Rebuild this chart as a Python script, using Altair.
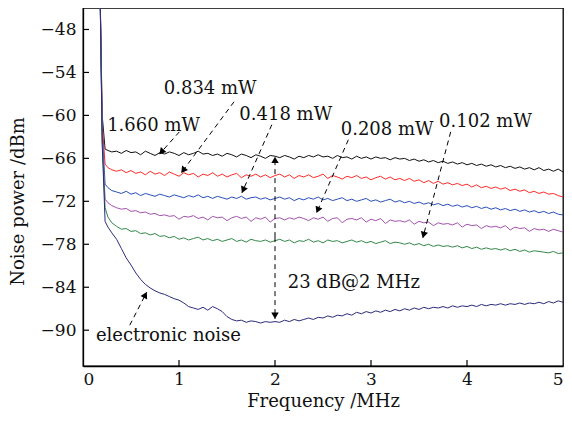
import math
import altair as alt
import pandas as pd

# ---------------- data ----------------
FREQ_START = [0.175, 0.20, 0.23, 0.26, 0.30]
FREQ_GRID = [round(0.35 + 0.05 * i, 2) for i in range(94)]
FREQ = FREQ_START + FREQ_GRID

SERIES = ["1.660 mW", "0.834 mW", "0.418 mW", "0.208 mW", "0.102 mW", "electronic noise"]
COLORS = ["#111111", "#ff2a2a", "#2a50b8", "#a452ae", "#33894a", "#2b2b7c"]

P1660 = [-40, -60, -64.7, -64.9, -65.1,
         -65.0, -65.3, -64.9, -65.2, -65.1, -65.5, -65.0, -65.3, -65.6, -65.2,
         -65.4, -65.1, -65.3, -65.6, -65.2, -65.5, -65.3, -65.0, -65.4, -65.3,
         -65.6, -65.4, -65.7, -65.3, -65.5, -65.8, -65.4, -65.6, -65.9, -65.5,
         -65.7, -66.0, -65.6, -65.7, -65.9, -65.6, -65.8, -66.1, -65.7, -65.9,
         -65.6, -65.8, -65.5, -65.8, -65.7, -66.0, -65.6, -65.9, -65.8, -66.1,
         -65.7, -66.0, -65.8, -66.1, -65.8, -66.0, -65.9, -66.2, -65.9, -66.1,
         -66.0, -66.3, -66.1, -66.4, -66.2, -66.5, -66.3, -66.6, -66.4, -66.7,
         -66.5, -66.8, -66.6, -66.9, -66.7, -67.0, -66.8, -67.1, -66.9, -67.2,
         -67.0, -67.3, -67.1, -67.4, -67.2, -67.5, -67.3, -67.6, -67.3, -67.7,
         -67.5, -67.8, -67.5, -67.9]
P0834 = [-40, -61, -66.8, -67.3, -67.6,
         -67.8, -67.6, -68.0, -67.7, -68.1, -67.9, -68.3, -67.8, -68.2, -68.0,
         -68.4, -67.9, -68.2, -68.5, -68.0, -68.3, -68.1, -68.6, -68.2, -68.4,
         -68.0, -68.5, -68.2, -68.6, -68.3, -68.1, -68.7, -68.3, -68.5, -68.2,
         -68.6, -68.3, -68.7, -68.4, -68.2, -68.6, -68.3, -68.8, -68.4, -68.6,
         -68.3, -68.7, -68.5, -68.2, -68.8, -68.4, -68.6, -68.9, -68.5, -68.7,
         -68.4, -68.8, -68.6, -69.0, -68.7, -68.5, -68.9, -68.6, -69.0, -68.8,
         -69.1, -68.8, -69.2, -69.0, -69.4, -69.1, -69.5, -69.2, -69.6, -69.4,
         -69.7, -69.5, -69.8, -69.6, -70.0, -69.7, -70.1, -69.9, -70.2, -70.0,
         -70.3, -70.1, -70.5, -70.3, -70.6, -70.4, -70.8, -70.6, -70.9, -70.7,
         -71.0, -70.9, -71.2, -71.4]
P0418 = [-40, -62, -69.6, -70.1, -70.5,
         -70.7, -70.9, -70.6, -71.0, -70.8, -71.2, -70.9, -71.1, -71.3, -71.0,
         -71.2, -71.4, -71.1, -71.3, -71.5, -71.2, -71.4, -71.1, -71.5, -71.3,
         -71.6, -71.3, -71.5, -71.7, -71.4, -71.6, -71.3, -71.7, -71.5, -71.4,
         -71.7, -71.5, -71.8, -71.6, -71.4, -71.7, -71.5, -71.9, -71.6, -71.8,
         -71.5, -71.7, -71.4, -71.8, -71.6, -71.9, -71.7, -71.5, -71.9, -71.7,
         -72.0, -71.8, -71.6, -72.0, -71.8, -72.1, -71.9, -71.7, -72.1, -71.9,
         -72.2, -72.0, -72.3, -72.1, -72.4, -72.2, -72.5, -72.3, -72.6, -72.4,
         -72.7, -72.5, -72.8, -72.6, -72.9, -72.7, -73.0, -72.8, -73.1, -72.9,
         -73.2, -73.0, -73.3, -73.1, -73.4, -73.2, -73.5, -73.3, -73.6, -73.4,
         -73.7, -73.5, -73.8, -73.9]
P0208 = [-40, -63, -71.7, -72.2, -72.6,
         -72.9, -73.1, -73.0, -73.4, -73.3, -73.6, -73.5, -73.8, -73.7, -74.0,
         -73.9, -74.1, -74.0, -74.5, -74.1, -74.2, -74.0, -74.4, -74.2, -74.6,
         -74.1, -74.3, -74.2, -74.7, -74.3, -74.1, -74.4, -74.2, -74.8, -74.3,
         -74.5, -74.2, -74.9, -74.4, -74.3, -74.6, -74.3, -74.5, -74.2, -74.4,
         -74.7, -74.3, -74.5, -74.2, -74.8, -74.4, -74.3, -75.0, -74.5, -74.4,
         -74.6, -74.3, -74.9, -74.5, -74.7, -74.4, -75.1, -74.6, -74.8, -74.7,
         -74.9, -74.6, -75.2, -74.8, -75.0, -74.9, -75.4, -75.0, -75.2, -75.1,
         -75.3, -75.0, -75.6, -75.2, -75.4, -75.3, -75.8, -75.4, -75.6, -75.5,
         -75.7, -75.4, -76.0, -75.6, -75.8, -75.7, -76.2, -75.8, -76.0, -75.9,
         -76.2, -75.9, -76.1, -76.3]
P0102 = [-40, -63.5, -72.9, -74.2, -75.0,
         -75.5, -75.9, -75.8, -76.2, -76.1, -76.5, -76.4, -76.7, -76.5, -76.9,
         -76.8, -77.1, -76.9, -77.3, -77.1, -77.4, -77.2, -77.0, -77.4, -77.2,
         -77.5, -77.3, -77.6, -77.4, -77.2, -77.6, -77.4, -77.7, -77.3, -77.5,
         -77.6, -77.4, -77.7, -77.5, -77.3, -77.6, -77.4, -77.8, -77.5, -77.6,
         -77.3, -77.7, -77.5, -77.8, -77.4, -77.6, -77.5, -77.8, -77.6, -77.4,
         -77.7, -77.5, -77.8, -77.6, -77.9, -77.7, -77.5, -77.9, -77.7, -77.8,
         -78.0, -77.8, -78.1, -77.9, -78.2, -78.0, -78.3, -78.1, -78.3, -78.2,
         -78.4, -78.2, -78.5, -78.3, -78.6, -78.4, -78.7, -78.5, -78.7, -78.6,
         -78.8, -78.6, -78.9, -78.7, -79.0, -78.8, -79.1, -78.9, -79.0, -79.1,
         -79.2, -79.0, -79.3, -79.2]
ELEC = [-40, -64, -74.8, -75.6, -76.4,
        -77.3, -78.6, -79.9, -80.9, -82.0, -82.9, -83.6, -84.1, -84.5, -84.8,
        -85.0, -85.3, -85.6, -85.8, -86.2, -86.7, -86.9, -87.1, -86.8, -87.2,
        -86.7, -87.0, -87.4, -88.1, -88.5, -88.7, -88.6, -88.9, -88.7, -88.8,
        -89.0, -88.8, -88.9, -88.8, -88.9, -88.6, -88.8, -88.5, -88.7, -88.5,
        -88.3, -88.5, -88.2, -88.3, -88.0, -88.2, -87.9, -88.0, -87.7, -87.9,
        -87.5, -87.7, -87.4, -87.6, -87.3, -87.5, -87.2, -87.4, -87.1, -87.3,
        -87.0, -87.2, -86.9, -87.1, -86.8, -87.0, -86.8, -86.9, -86.7, -86.9,
        -86.6, -86.8, -86.6, -86.7, -86.5, -86.7, -86.4, -86.6, -86.4, -86.5,
        -86.3, -86.5, -86.3, -86.4, -86.2, -86.4, -86.2, -86.3, -86.1, -86.3,
        -86.0, -86.2, -85.9, -86.1]

Y_TICKS = [-90, -84, -78, -72, -66, -60, -54, -48]
X_TICKS = [0, 1, 2, 3, 4, 5]

# annotation labels (centre positions, data units)
LABELS = ["0.834 mW", "1.660 mW", "0.418 mW", "0.208 mW", "0.102 mW", "23 dB@2 MHz", "electronic noise"]
LABEL_X = [1.325, 0.735, 2.112, 3.168, 4.193, 2.821, 0.890]
LABEL_Y = [-56.3, -61.5, -59.9, -62.0, -60.9, -83.4, -90.8]

# arrows: start -> tip (data units)
ARROW_X1 = [1.004, 1.573, 1.967, 2.764, 3.830, 2.0, 2.0, 0.487]
ARROW_Y1 = [-62.3, -58.1, -61.3, -63.4, -62.3, -77.0, -77.0, -89.3]
ARROW_X2 = [0.797, 1.025, 1.656, 2.433, 3.540, 2.0, 2.0, 0.663]
ARROW_Y2 = [-65.4, -68.0, -70.8, -73.6, -77.1, -65.8, -88.4, -84.7]

# ---------------- build ----------------
W, H = 480, 358
XMIN, XMAX = 0, 5
YMIN, YMAX = -95, -45
SX = W / (XMAX - XMIN)
SY = H / (YMAX - YMIN)
FONT = "DejaVu Serif"

rows = []
for name, vals in zip(SERIES, [P1660, P0834, P0418, P0208, P0102, ELEC]):
    for f, v in zip(FREQ, vals):
        rows.append({"f": f, "p": v, "s": name})
df = pd.DataFrame(rows)

xs = alt.Scale(domain=[XMIN, XMAX], nice=False, zero=False)
ys = alt.Scale(domain=[YMIN, YMAX], nice=False, zero=False)

lines = alt.Chart(df).mark_line(strokeWidth=1, clip=True).encode(
    x=alt.X("f:Q", scale=xs, title="Frequency /MHz",
            axis=alt.Axis(values=X_TICKS, format="d", ticks=False, labelPadding=5,
                          titlePadding=5, grid=False)),
    y=alt.Y("p:Q", scale=ys, title="Noise power /dBm",
            axis=alt.Axis(values=Y_TICKS, ticks=False, labelPadding=7, grid=False,
                          titleX=-65, titleY=193, titleBaseline="middle", titleAngle=-90,
                          titleAlign="center")),
    color=alt.Color("s:N", scale=alt.Scale(domain=SERIES, range=COLORS), legend=None),
    detail="s:N",
)

# inward tick marks
ytick_df = pd.DataFrame({"v": Y_TICKS})
xtick_df = pd.DataFrame({"v": X_TICKS[1:-1]})
yticks = alt.Chart(ytick_df).mark_rule(color="black", strokeWidth=1.2).encode(
    y=alt.Y("v:Q", scale=ys), x=alt.value(0), x2=alt.value(6))
xticks = alt.Chart(xtick_df).mark_rule(color="black", strokeWidth=1.2).encode(
    x=alt.X("v:Q", scale=xs), y=alt.value(H), y2=alt.value(H - 6))

# arrows
arr = []
for x1, y1, x2, y2 in zip(ARROW_X1, ARROW_Y1, ARROW_X2, ARROW_Y2):
    dx = (x2 - x1) * SX
    dy = -(y2 - y1) * SY
    L = math.hypot(dx, dy)
    ang = math.degrees(math.atan2(dx, -dy)) % 360
    back = 4.0
    hx = x2 - (dx / L) * back / SX
    hy = y2 + (dy / L) * back / SY
    arr.append({"x1": x1, "y1": y1, "x2": x2, "y2": y2, "hx": hx, "hy": hy, "ang": ang})
adf = pd.DataFrame(arr)

shafts = alt.Chart(adf).mark_rule(color="black", strokeWidth=1, strokeDash=[5, 4]).encode(
    x=alt.X("x1:Q", scale=xs), y=alt.Y("y1:Q", scale=ys), x2="x2:Q", y2="y2:Q")
heads = alt.Chart(adf).mark_point(shape="triangle", filled=True, color="black",
                                  size=55, opacity=1).encode(
    x=alt.X("hx:Q", scale=xs), y=alt.Y("hy:Q", scale=ys), angle=alt.Angle("ang:Q", scale=None))

ldf = pd.DataFrame({"t": LABELS, "x": LABEL_X, "y": LABEL_Y})
labels = alt.Chart(ldf).mark_text(font=FONT, fontSize=18, color="#111111",
                                  align="center", baseline="middle").encode(
    x=alt.X("x:Q", scale=xs), y=alt.Y("y:Q", scale=ys), text="t:N")

chart = alt.layer(lines, yticks, xticks, shafts, heads, labels).properties(
    width=W, height=H,
    autosize=alt.AutoSizeParams(type="none"),
    padding={"left": 75, "top": 0, "right": 1, "bottom": 46},
    background="white",
).configure_view(stroke="black", strokeWidth=1.3).configure_axis(
    domainColor="black", domainWidth=1.3, labelFont=FONT, titleFont=FONT,
    labelFontSize=17, titleFontSize=18, labelColor="#111111", titleColor="#111111",
    titleFontWeight="normal",
)

chart.save("out.html", embed_options={"renderer": "svg", "actions": False})
